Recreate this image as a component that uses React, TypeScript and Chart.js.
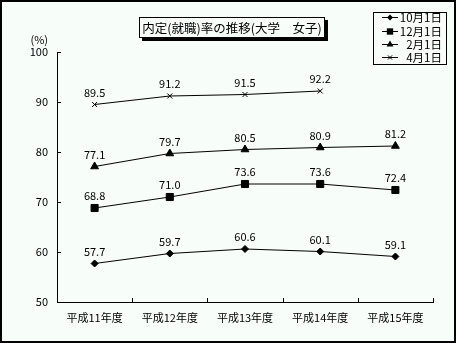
import React, { useEffect, useRef } from "react";
import { Chart, registerables } from "chart.js";

Chart.register(...registerables);

const categories = ["平成11年度", "平成12年度", "平成13年度", "平成14年度", "平成15年度"];
const seriesNames = ["10月1日", "12月1日", "2月1日", "4月1日"];
const oct1 = [57.7, 59.7, 60.6, 60.1, 59.1];
const dec1 = [68.8, 71.0, 73.6, 73.6, 72.4];
const feb1 = [77.1, 79.7, 80.5, 80.9, 81.2];
const apr1 = [89.5, 91.2, 91.5, 92.2, null];
const titleText = "内定(就職)率の推移(大学　女子)";
const unitLabel = "(%)";
const yMin = 50;
const yMax = 100;
const yStep = 10;

const BG = "#f7fdf9";
const FONT = "'Noto Sans CJK JP', 'DejaVu Sans', sans-serif";

const pointStyles = ["rectRot", "rect", "triangle", "crossRot"];
const pointRadii = [3.5, 5, 4.5, 3.5];

function drawMarker(ctx: CanvasRenderingContext2D, style: string, r: number, x: number, y: number) {
  ctx.beginPath();
  if (style === "rectRot") {
    ctx.moveTo(x, y - r);
    ctx.lineTo(x + r, y);
    ctx.lineTo(x, y + r);
    ctx.lineTo(x - r, y);
    ctx.closePath();
    ctx.fill();
  } else if (style === "rect") {
    const s = r * Math.SQRT1_2;
    ctx.rect(x - s, y - s, 2 * s, 2 * s);
    ctx.fill();
  } else if (style === "triangle") {
    ctx.moveTo(x, y - r);
    ctx.lineTo(x + r * 0.866, y + r * 0.5);
    ctx.lineTo(x - r * 0.866, y + r * 0.5);
    ctx.closePath();
    ctx.fill();
  } else {
    const s = r * Math.SQRT1_2;
    ctx.moveTo(x - s, y - s);
    ctx.lineTo(x + s, y + s);
    ctx.moveTo(x - s, y + s);
    ctx.lineTo(x + s, y - s);
    ctx.stroke();
  }
}

export default function App() {
  const ref = useRef<HTMLCanvasElement | null>(null);

  useEffect(() => {
    document.body.style.margin = "0";
    const canvas = ref.current;
    if (!canvas) return;

    const decorPlugin = {
      id: "decor",
      beforeDraw(chart: any) {
        const ctx = chart.ctx;
        ctx.save();
        ctx.fillStyle = BG;
        ctx.fillRect(0, 0, chart.width, chart.height);
        ctx.restore();
      },
      afterDraw(chart: any) {
        const ctx = chart.ctx;
        const area = chart.chartArea;
        const ys = chart.scales.y;
        ctx.save();
        ctx.strokeStyle = "#000";
        ctx.lineWidth = 1;
        const n = categories.length;
        for (let i = 1; i <= n; i++) {
          const x = Math.round(area.left + (i * (area.right - area.left)) / n) + 0.5;
          ctx.beginPath();
          ctx.moveTo(x, area.bottom);
          ctx.lineTo(x, area.bottom - 4);
          ctx.stroke();
        }
        for (let v = yMin; v <= yMax; v += yStep) {
          const y = Math.round(ys.getPixelForValue(v)) + 0.5;
          ctx.beginPath();
          ctx.moveTo(area.left, y);
          ctx.lineTo(area.left + 4, y);
          ctx.stroke();
        }
        ctx.fillStyle = "#000";
        ctx.font = `11px ${FONT}`;
        ctx.textAlign = "center";
        ctx.textBaseline = "middle";
        chart.data.datasets.forEach((ds: any, di: number) => {
          const meta = chart.getDatasetMeta(di);
          meta.data.forEach((pt: any, i: number) => {
            const v = ds.data[i];
            if (v === null || v === undefined) return;
            ctx.fillText(Number(v).toFixed(1), pt.x, pt.y - 12);
          });
        });
        ctx.textAlign = "right";
        ctx.fillText(unitLabel, area.left - 9, area.top - 12);

        const tx = 139, ty = 17, tw = 186, th = 21;
        ctx.fillStyle = "#000";
        ctx.fillRect(tx + 3, ty + 3, tw, th);
        ctx.fillStyle = BG;
        ctx.fillRect(tx, ty, tw, th);
        ctx.strokeRect(tx + 0.5, ty + 0.5, tw - 1, th - 1);
        ctx.fillStyle = "#000";
        ctx.font = `12.5px ${FONT}`;
        ctx.textAlign = "center";
        ctx.fillText(titleText, tx + tw / 2, ty + th / 2 + 1, tw - 6);

        const lx = 373, ly = 12, lw = 74, lh = 53;
        ctx.fillStyle = BG;
        ctx.fillRect(lx, ly, lw, lh);
        ctx.strokeRect(lx + 0.5, ly + 0.5, lw - 1, lh - 1);
        const rows = [17, 31, 44, 57];
        ctx.font = `11.5px ${FONT}`;
        ctx.textAlign = "right";
        ctx.fillStyle = "#000";
        seriesNames.forEach((name, i) => {
          const y = rows[i] + 0.5;
          ctx.beginPath();
          ctx.moveTo(382, y);
          ctx.lineTo(398, y);
          ctx.stroke();
          drawMarker(ctx, pointStyles[i], pointRadii[i] - 0.5, 390, y);
          ctx.fillText(name, 442, rows[i] + 1);
        });

        ctx.lineWidth = 2;
        ctx.strokeRect(1, 1, chart.width - 2, chart.height - 2);
        ctx.restore();
      },
    };

    const allSeries = [oct1, dec1, feb1, apr1];
    const chart = new Chart(canvas, {
      type: "line",
      data: {
        labels: categories,
        datasets: allSeries.map((d, i) => ({
          label: seriesNames[i],
          data: d,
          borderColor: "#000",
          backgroundColor: "#000",
          borderWidth: 1,
          pointStyle: pointStyles[i] as any,
          pointRadius: pointRadii[i],
          pointBorderWidth: 1,
          pointBackgroundColor: "#000",
          pointBorderColor: "#000",
          tension: 0,
          spanGaps: false,
        })),
      },
      options: {
        responsive: false,
        animation: false,
        devicePixelRatio: 1,
        layout: { padding: { left: 0, top: 52, right: 23, bottom: 0 } },
        plugins: {
          legend: { display: false },
          title: { display: false },
          tooltip: { enabled: false },
        },
        scales: {
          x: {
            type: "category",
            offset: true,
            grid: { display: false, drawTicks: false, offset: true },
            border: { display: true, color: "#000", width: 1 },
            ticks: { color: "#000", font: { family: FONT, size: 11 }, padding: 9, maxRotation: 0, autoSkip: false },
            afterFit(scale: any) {
              scale.height = 41;
            },
          },
          y: {
            min: yMin,
            max: yMax,
            grid: { display: false, drawTicks: false },
            border: { display: true, color: "#000", width: 1 },
            ticks: { stepSize: yStep, color: "#000", font: { family: FONT, size: 11 }, padding: 9 },
            afterFit(scale: any) {
              scale.width = 57;
            },
          },
        },
      },
      plugins: [decorPlugin],
    });
    return () => chart.destroy();
  }, []);

  return <canvas ref={ref} width={456} height={343} style={{ display: "block", width: 456, height: 343 }} />;
}
